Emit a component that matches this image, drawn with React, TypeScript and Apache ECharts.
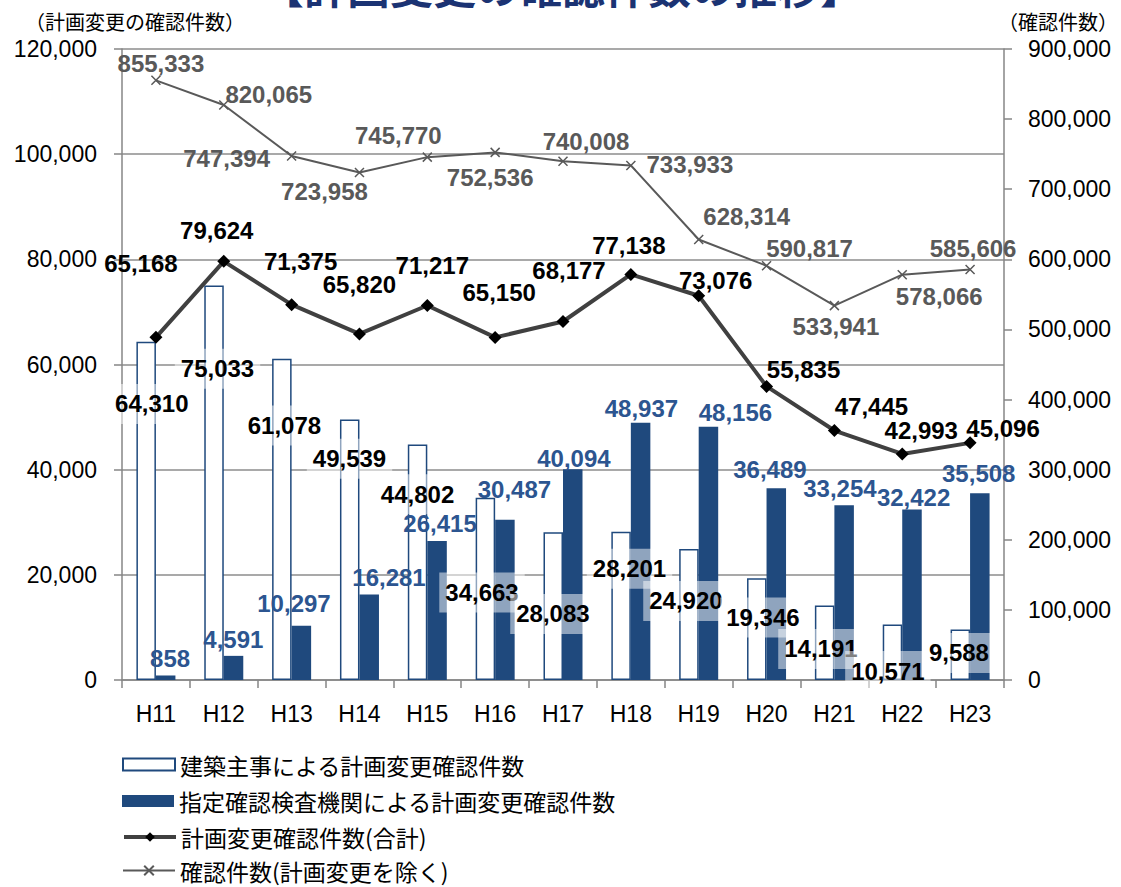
import React, { useEffect, useRef } from 'react';
import * as echarts from 'echarts';

// ---- data ----
const categories = ['H11', 'H12', 'H13', 'H14', 'H15', 'H16', 'H17', 'H18', 'H19', 'H20', 'H21', 'H22', 'H23'];
const shujiValues = [64310, 75033, 61078, 49539, 44802, 34663, 28083, 28201, 24920, 19346, 14191, 10571, 9588];
const shiteiValues = [858, 4591, 10297, 16281, 26415, 30487, 40094, 48937, 48156, 36489, 33254, 32422, 35508];
const totalValues = [65168, 79624, 71375, 65820, 71217, 65150, 68177, 77138, 73076, 55835, 47445, 42993, 45096];
const kakuninValues = [855333, 820065, 747394, 723958, 745770, 752536, 740008, 733933, 628314, 590817, 533941, 578066, 585606];

const seriesNames = [
  '建築主事による計画変更確認件数',
  '指定確認検査機関による計画変更確認件数',
  '計画変更確認件数(合計)',
  '確認件数(計画変更を除く)',
];

// axis scales
const leftMax = 120000;
const leftInterval = 20000;
const rightMax = 900000;
const rightInterval = 100000;

// label placement offsets (style only)
const shujiLabelOffsets = [[5.6, -107], [3.5, -114], [2.6, -94], [-0.2, -91], [0, -68], [-3.4, 3.6], [-0.3, 7.8], [8.4, -37], [-3, -13.5], [6.1, -11.6], [-3.7, 6.3], [-4.6, 18.8], [-1.4, -1.8]];
const shiteiLabelOffsets = [[4.4, -19.7], [-0.2, -28], [-7.4, -49], [19.8, -60], [3, -86.6], [9.5, -110.8], [1.2, -115.6], [0.8, -143.3], [27, -140.9], [-6.4, -115], [-4.2, -103.6], [1.6, -97.3], [-1.1, -112.7]];
const totalLabelOffsets = [[-15, -74], [-7, -31], [9, -43], [0, -49], [5, -40], [4, -45], [6, -51], [-2, -29], [17, -15], [37, -17], [37, -24], [19, -23], [33, -14]];
const kakuninLabelOffsets = [[5, -17], [45, -11], [-65, 3], [-35, 19], [-29, -22], [-5, 25], [23, -20], [59, -1], [48, -23], [43, -17], [1.5, 21], [37, 22], [3, -21]];

const fmt = (v: number) => Number(v).toLocaleString('en-US');

export default function App() {
  const ref = useRef<HTMLDivElement>(null);
  useEffect(() => {
    if (!ref.current) return;
    const chart = echarts.init(ref.current, null, { renderer: 'svg' });
    const numFont = "'Liberation Sans', Arial, sans-serif";
    const jpFont = "'Noto Sans CJK JP', 'Noto Sans', sans-serif";
    const axisGray = '#868686';
    const darkBlue = '#1F497D';

    const baseLabel = {
      show: true,
      position: 'inside',
      fontFamily: numFont,
      fontSize: 24,
      fontWeight: 'bold',
      lineHeight: 24,
      textBorderWidth: 0,
      overflow: 'none',
      formatter: (p: any) => fmt(p.value),
    };

    const legendTops = [753, 789.5, 825.5, 859];
    const legendLineWidths = [1, 1, 4, 2];
    const legends = seriesNames.map((name, i) => ({
      orient: 'vertical',
      left: 122,
      top: legendTops[i],
      padding: 0,
      itemWidth: 52,
      itemHeight: 12,
      selectedMode: false,
      lineStyle: { width: legendLineWidths[i] },
      textStyle: { fontFamily: jpFont, fontSize: 23, color: '#000', lineHeight: 23 },
      data: [i < 2 ? { name, icon: 'rect' } : { name }],
    }));

    const option: any = {
      animation: false,
      backgroundColor: '#ffffff',
      tooltip: { show: false },
      graphic: [
        {
          type: 'text',
          style: {
            text: '【計画変更の確認件数の推移】',
            x: 562,
            y: -15,
            align: 'center',
            verticalAlign: 'middle',
            fontFamily: jpFont,
            fontSize: 43,
            fontWeight: 'bold',
            fill: '#1B3373',
          },
        },
        {
          type: 'text',
          style: {
            text: '（計画変更の確認件数）',
            x: 25,
            y: 21,
            align: 'left',
            verticalAlign: 'middle',
            fontFamily: jpFont,
            fontSize: 20,
            fill: '#000',
          },
        },
        {
          type: 'text',
          style: {
            text: '（確認件数）',
            x: 1118,
            y: 21,
            align: 'right',
            verticalAlign: 'middle',
            fontFamily: jpFont,
            fontSize: 20,
            fill: '#000',
          },
        },
      ],
      legend: legends,
      grid: { left: 122, right: 117, top: 49, bottom: 207, containLabel: false, outerBoundsMode: 'none' },
      xAxis: {
        type: 'category',
        data: categories,
        boundaryGap: true,
        axisLine: { show: true, lineStyle: { color: axisGray, width: 1.5 } },
        axisTick: { show: true, length: 8, lineStyle: { color: axisGray, width: 1.5 } },
        axisLabel: { fontFamily: numFont, fontSize: 23, lineHeight: 24, color: '#000', margin: 22 },
      },
      yAxis: [
        {
          type: 'value',
          min: 0,
          max: leftMax,
          interval: leftInterval,
          axisLine: { show: true, lineStyle: { color: axisGray, width: 1.5 } },
          axisTick: { show: true, length: 8, lineStyle: { color: axisGray, width: 1.5 } },
          splitLine: { show: true, lineStyle: { color: '#8c8c8c', width: 1.5 } },
          axisLabel: { fontFamily: numFont, fontSize: 23, color: '#000', margin: 25, formatter: fmt },
        },
        {
          type: 'value',
          position: 'right',
          min: 0,
          max: rightMax,
          interval: rightInterval,
          axisLine: { show: true, lineStyle: { color: axisGray, width: 1.5 } },
          axisTick: { show: true, length: 8, lineStyle: { color: axisGray, width: 1.5 } },
          splitLine: { show: false },
          axisLabel: { fontFamily: numFont, fontSize: 23, color: '#000', margin: 24, formatter: fmt },
        },
      ],
      series: [
        {
          name: seriesNames[0],
          type: 'bar',
          yAxisIndex: 0,
          barGap: '0%',
          barCategoryGap: '42.5%',
          z: 2,
          itemStyle: { color: '#ffffff', borderColor: darkBlue, borderWidth: 1.5 },
          label: {
            ...baseLabel,
            color: '#000',
            backgroundColor: 'rgba(255,255,255,0.5)',
            padding: [8, 6],
          },
          data: shujiValues.map((v, i) => ({ value: v, label: { offset: shujiLabelOffsets[i] } })),
        },
        {
          name: seriesNames[1],
          type: 'bar',
          yAxisIndex: 0,
          z: 2,
          itemStyle: { color: darkBlue },
          label: { ...baseLabel, color: '#2C5590' },
          data: shiteiValues.map((v, i) => ({ value: v, label: { offset: shiteiLabelOffsets[i] } })),
        },
        {
          name: seriesNames[2],
          type: 'line',
          yAxisIndex: 0,
          z: 3,
          symbol: 'diamond',
          symbolSize: 13,
          lineStyle: { color: '#404040', width: 4 },
          itemStyle: { color: '#000000' },
          label: { ...baseLabel, color: '#000' },
          data: totalValues.map((v, i) => ({ value: v, label: { offset: totalLabelOffsets[i] } })),
        },
        {
          name: seriesNames[3],
          type: 'line',
          yAxisIndex: 1,
          z: 3,
          symbol: 'path://M0 0L10 10M10 0L0 10',
          symbolSize: 9,
          lineStyle: { color: '#595959', width: 2 },
          itemStyle: { color: '#595959', borderColor: '#595959', borderWidth: 1.5 },
          label: { ...baseLabel, color: '#595959' },
          data: kakuninValues.map((v, i) => ({ value: v, label: { offset: kakuninLabelOffsets[i] } })),
        },
      ],
    };
    chart.setOption(option);
    return () => chart.dispose();
  }, []);
  return (
    <div
      ref={ref}
      style={{ position: 'absolute', left: 0, top: 0, width: 1121, height: 887, background: '#fff' }}
    />
  );
}
